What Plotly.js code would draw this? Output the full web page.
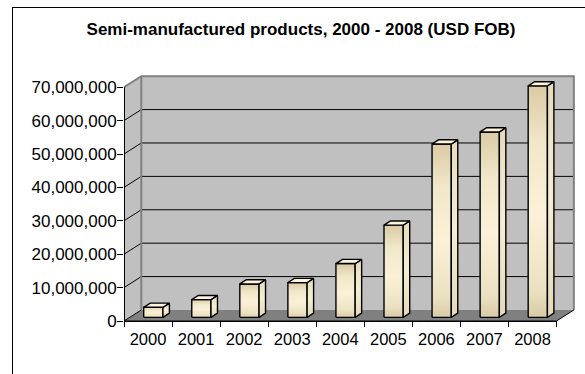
<!DOCTYPE html>
<html>
<head>
<meta charset="utf-8">
<script src="https://cdn.plot.ly/plotly-3.0.1.min.js"></script>
<style>
  html, body { margin: 0; padding: 0; background: #ffffff; overflow: hidden; }
  #wrap { position: relative; width: 585px; height: 374px; overflow: hidden; }
  #chart { position: absolute; left: 0; top: 0; width: 585px; height: 374px; }
  /* chart-area frame: only its left and top edges fall inside the page */
  #frame { position: absolute; left: 12px; top: 7px; width: 700px; height: 500px;
           border-left: 1px solid #000; border-top: 1px solid #000; pointer-events: none; }
</style>
</head>
<body>
<div id="wrap">
  <div id="chart"></div>
  <div id="frame"></div>
</div>
<script>
// Semi-manufactured exports by year, USD FOB
const years = ['2000', '2001', '2002', '2003', '2004', '2005', '2006', '2007', '2008'];
const values = [3.0e6, 5.3e6, 10.0e6, 10.4e6, 16.1e6, 27.6e6, 51.9e6, 55.5e6, 69.3e6];
const yTickVals = [0, 10e6, 20e6, 30e6, 40e6, 50e6, 60e6, 70e6];

// pseudo-3D geometry, in axis units
const WALL_DX = 0.36;      // depth of the box along x
const WALL_DY = 3.3e6;     // depth of the box along y
const BAR_SHIFT = 0.11;    // bar front face offset from category centre
const BAR_HALF = 0.2;      // half width of a bar
const BAR_DX = 0.135;      // bar depth along x
const BAR_DY = 1.25e6;     // bar depth along y
const BAR_BASE = 1.1e6;    // where the bar front face meets the floor

const W = 585, H = 374;
const M = { l: 124, r: 9, t: 75, b: 53 };
const PW = W - M.l - M.r, PH = H - M.t - M.b;
const PX_PER_CAT = 48.06, PX_PER_VAL = 3.34e-6;

const n = years.length;
const xLeft = -0.5, xRight = n - 0.5;
const yTop = yTickVals[yTickVals.length - 1];
const idx = years.map((_, i) => i);
const boundaries = Array.from({ length: n + 1 }, (_, i) => i - 0.5);

const traces = [];

function poly(xs, ys, opt) {
  const t = {
    type: 'scatter', mode: 'lines', x: xs, y: ys,
    hoverinfo: 'skip', showlegend: false,
    line: { color: opt.line || 'rgba(0,0,0,0)', width: opt.width || 0 }
  };
  if (opt.fill) { t.fill = 'toself'; t.fillcolor = opt.fill; }
  if (opt.gradient) { t.fill = 'toself'; t.fillgradient = opt.gradient; }
  if (opt.xaxis) t.xaxis = opt.xaxis;
  traces.push(t);
}

// side wall
poly([xLeft, xLeft + WALL_DX, xLeft + WALL_DX, xLeft, xLeft],
     [0, WALL_DY, yTop + WALL_DY, yTop, 0], { fill: '#c0c0c0' });
// back wall
poly([xLeft + WALL_DX, xRight + WALL_DX, xRight + WALL_DX, xLeft + WALL_DX, xLeft + WALL_DX],
     [WALL_DY, WALL_DY, yTop + WALL_DY, yTop + WALL_DY, WALL_DY], { fill: '#c0c0c0' });
// floor
poly([xLeft, xRight, xRight + WALL_DX, xLeft + WALL_DX, xLeft],
     [0, 0, WALL_DY, WALL_DY, 0], { fill: '#808080' });

// gridlines across side and back wall
const gx = [], gy = [];
yTickVals.slice(1, -1).forEach(v => {
  gx.push(xLeft, xLeft + WALL_DX, xRight + WALL_DX, null);
  gy.push(v, v + WALL_DY, v + WALL_DY, null);
});
poly(gx, gy, { line: '#000000', width: 1 });

// wall borders
poly([xLeft, xLeft + WALL_DX, xRight + WALL_DX, xRight + WALL_DX],
     [yTop, yTop + WALL_DY, yTop + WALL_DY, WALL_DY], { line: '#808080', width: 2 });
poly([xLeft + WALL_DX, xLeft + WALL_DX], [WALL_DY, yTop + WALL_DY], { line: '#808080', width: 2 });

// floor edges and value axis line
poly([xLeft + WALL_DX, xLeft], [WALL_DY, 0], { line: '#000000', width: 1 });
poly([xLeft, xLeft], [0, yTop], { line: '#000000', width: 2 });
poly([xRight, xRight + WALL_DX], [0, WALL_DY], { line: '#000000', width: 1 });
poly([xLeft, xRight], [0, 0], { line: '#000000', width: 1, xaxis: 'x2' });

// bars
const frontGradient = {
  type: 'vertical',
  colorscale: [[0, '#d8cba6'], [0.12, '#ebe1c2'], [0.45, '#fcf1d8'], [0.75, '#f1e7ca'], [1, '#d9cba4']]
};
const sideGradient = {
  type: 'vertical',
  colorscale: [[0, '#e4d9b8'], [0.5, '#f6edd2'], [1, '#e6dbba']]
};
idx.forEach(i => {
  const v = values[i];
  const x0 = i + BAR_SHIFT - BAR_HALF, x1 = i + BAR_SHIFT + BAR_HALF;
  const y0 = BAR_BASE, y1 = BAR_BASE + v;
  poly([x0, x1, x1, x0, x0], [y0, y0, y1, y1, y0],
       { gradient: frontGradient, line: '#000000', width: 1.4 });
  poly([x1, x1 + BAR_DX, x1 + BAR_DX, x1, x1], [y0, y0 + BAR_DY, y1 + BAR_DY, y1, y0],
       { gradient: sideGradient, line: '#000000', width: 1.4 });
  poly([x0, x1, x1 + BAR_DX, x0 + BAR_DX, x0], [y1, y1, y1 + BAR_DY, y1 + BAR_DY, y1],
       { fill: '#fdf4dc', line: '#000000', width: 1.4 });
});

const xRange = [xLeft, xLeft + PW / PX_PER_CAT];
const yRange = [0, PH / PX_PER_VAL];
const fontFam = '"Liberation Sans", Arial, sans-serif';

const layout = {
  width: W, height: H,
  margin: M,
  paper_bgcolor: '#ffffff', plot_bgcolor: 'rgba(0,0,0,0)',
  showlegend: false, hovermode: false,
  title: {
    text: 'Semi-manufactured products, 2000 - 2008 (USD FOB)',
    font: { family: fontFam, size: 17, color: '#000000', weight: 'bold' },
    xref: 'container', x: 301 / W, xanchor: 'center',
    yref: 'container', y: 1 - 29 / H, yanchor: 'middle'
  },
  xaxis: {
    range: xRange, anchor: 'y',
    tickmode: 'array', tickvals: idx, ticktext: years,
    ticks: 'outside', ticklen: 5, tickcolor: 'rgba(0,0,0,0)',
    ticklabelstandoff: -2,
    showgrid: false, zeroline: false, showline: false,
    tickfont: { family: fontFam, size: 16.5, color: '#000000' }
  },
  xaxis2: {
    range: [xLeft, xRight], anchor: 'y',
    domain: [0, (xRight - xLeft) / (xRange[1] - xRange[0])],
    tickmode: 'array', tickvals: boundaries,
    ticks: 'outside', ticklen: 5, tickcolor: '#000000', tickwidth: 1,
    showline: true, linecolor: '#000000', linewidth: 1,
    showticklabels: false, showgrid: false, zeroline: false
  },
  yaxis: {
    range: yRange, anchor: 'x',
    tickmode: 'array', tickvals: yTickVals, tickformat: ',d',
    ticks: 'outside', ticklen: 6, tickcolor: '#000000', tickwidth: 1,
    ticklabelstandoff: -3,
    showgrid: false, zeroline: false, showline: false,
    tickfont: { family: fontFam, size: 17, color: '#000000' }
  }
};

Plotly.newPlot('chart', traces, layout, { staticPlot: true, displayModeBar: false });
</script>
</body>
</html>
